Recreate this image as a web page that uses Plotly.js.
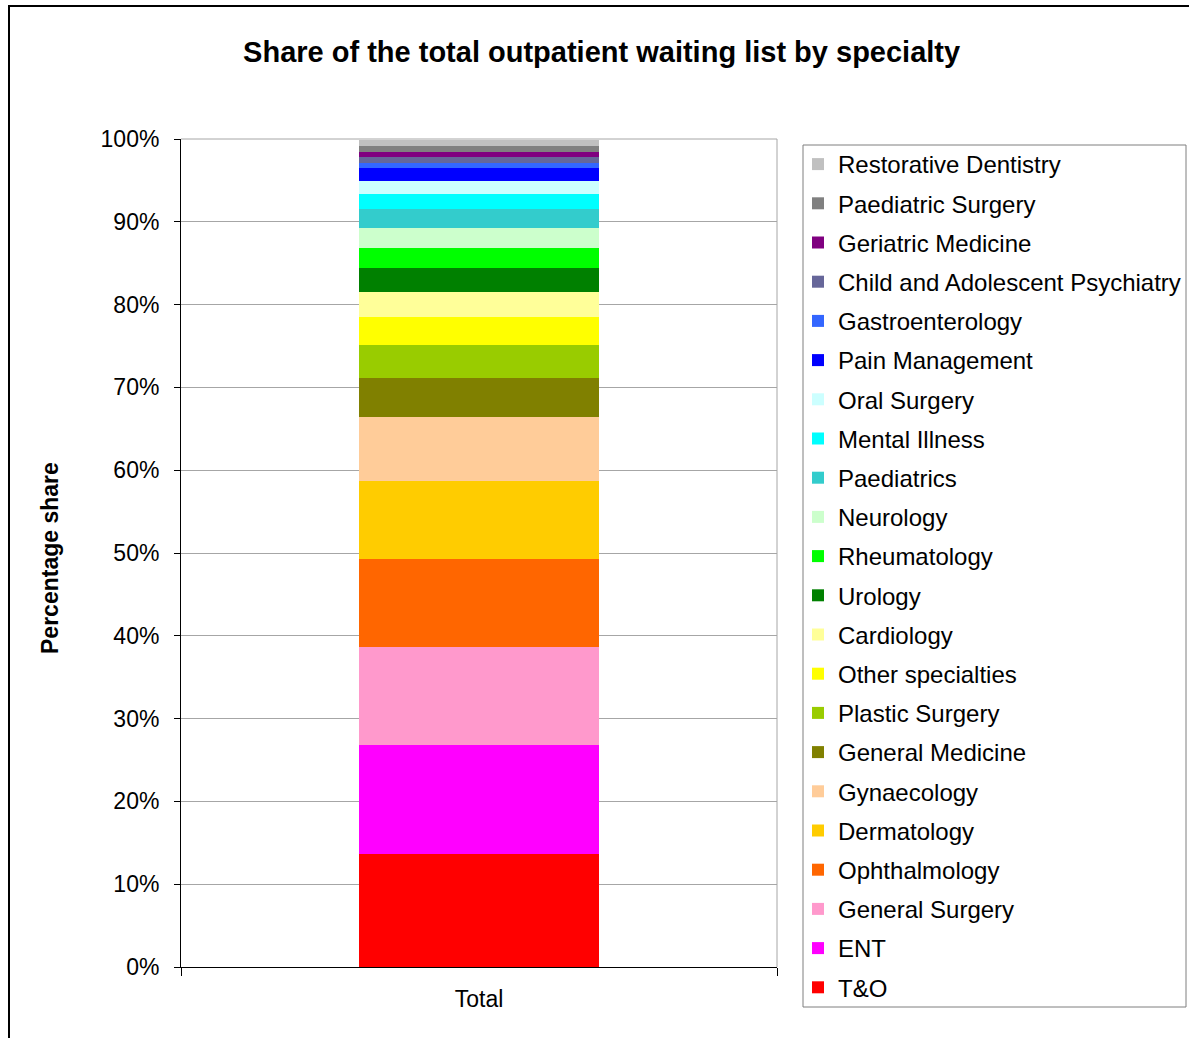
<!DOCTYPE html>
<html>
<head>
<meta charset="utf-8">
<script src="https://cdn.plot.ly/plotly-3.0.1.min.js"></script>
<style>
  html, body { margin: 0; padding: 0; background: #fff; }
  #wrap { position: relative; width: 1189px; height: 1038px; overflow: hidden; }
  #chart { width: 1189px; height: 1038px; }
  #frame { position: absolute; left: 8px; top: 5px; width: 1300px; height: 1200px;
           border: 2px solid #000; pointer-events: none; box-sizing: border-box; }
</style>
</head>
<body>
<div id="wrap">
  <div id="chart"></div>
  <div id="frame"></div>
</div>
<script>
// Data (bottom of stack first)
const categories = ["Total"];
const specialties = [
  "T&O", "ENT", "General Surgery", "Ophthalmology", "Dermatology", "Gynaecology",
  "General Medicine", "Plastic Surgery", "Other specialties", "Cardiology", "Urology",
  "Rheumatology", "Neurology", "Paediatrics", "Mental Illness", "Oral Surgery",
  "Pain Management", "Gastroenterology", "Child and Adolescent Psychiatry",
  "Geriatric Medicine", "Paediatric Surgery", "Restorative Dentistry"
];
const shares = [
  13.6, 13.2, 11.9, 10.6, 9.4, 7.7,
  4.7, 4.0, 3.4, 3.0, 2.9,
  2.4, 2.5, 2.2, 1.8, 1.6,
  1.6, 0.6, 0.7,
  0.6, 0.7, 0.8
];
const yTickVals = [0, 10, 20, 30, 40, 50, 60, 70, 80, 90, 100];
const yTickText = ["0%", "10%", "20%", "30%", "40%", "50%", "60%", "70%", "80%", "90%", "100%"];

// Styles
const colors = [
  "#FF0000", "#FF00FF", "#FF99CC", "#FF6600", "#FFCC00", "#FFCC99",
  "#808000", "#99CC00", "#FFFF00", "#FFFF99", "#008000",
  "#00FF00", "#CCFFCC", "#33CCCC", "#00FFFF", "#CCFFFF",
  "#0000FF", "#3366FF", "#666699",
  "#800080", "#808080", "#C0C0C0"
];

const FONT = '"Liberation Sans", Arial, sans-serif';

const traces = specialties.map((name, i) => ({
  type: "bar",
  name: name,
  x: categories,
  y: [shares[i]],
  legendgroup: "g" + i,
  legendrank: specialties.length - i,
  marker: { color: colors[i], line: { width: 0 } },
  hoverinfo: "name+y"
}));

const px = v => (v - 181) / 596;
const py = v => (967 - v) / 828;

const layout = {
  width: 1189,
  height: 1038,
  margin: { l: 181, r: 412, t: 139, b: 71, pad: 0, autoexpand: false },
  paper_bgcolor: "#ffffff",
  plot_bgcolor: "#ffffff",
  barmode: "stack",
  bargap: 0.597,
  font: { family: FONT, size: 23, color: "#000" },
  title: {
    text: "<b>Share of the total outpatient waiting list by specialty</b>",
    font: { family: FONT, size: 29, color: "#000" },
    xref: "container", x: 0.506, xanchor: "center",
    yref: "container", y: 1 - 52 / 1038, yanchor: "middle"
  },
  xaxis: {
    type: "category",
    showgrid: false,
    showline: true, linecolor: "#000", linewidth: 1,
    ticks: "outside", tickson: "boundaries", ticklen: 8, tickcolor: "#000",
    ticklabelstandoff: 11,
    tickfont: { family: FONT, size: 23, color: "#000" },
    zeroline: false, fixedrange: true
  },
  yaxis: {
    range: [0, 100],
    tickmode: "array",
    tickvals: yTickVals,
    ticktext: yTickText,
    showgrid: true, gridcolor: "#a6a6a6", gridwidth: 1,
    showline: true, linecolor: "#000", linewidth: 1,
    ticks: "outside", ticklen: 6, tickcolor: "#000",
    ticklabelstandoff: 10,
    tickfont: { family: FONT, size: 23, color: "#000" },
    zeroline: false, fixedrange: true
  },
  shapes: [
    { type: "line", xref: "paper", yref: "paper", x0: 1, x1: 1, y0: 0, y1: 1,
      line: { color: "#a6a6a6", width: 1 }, layer: "below" },
    { type: "line", xref: "paper", yref: "paper", x0: 0, x1: 1, y0: 1, y1: 1,
      line: { color: "#a6a6a6", width: 1 }, layer: "below" },
    { type: "rect", xref: "paper", yref: "paper",
      x0: px(803), x1: px(1186), y0: py(1007), y1: py(145),
      line: { color: "#7f7f7f", width: 1 }, fillcolor: "rgba(0,0,0,0)", layer: "above" }
  ],
  annotations: [
    { text: "<b>Percentage share</b>", textangle: -90, showarrow: false,
      xref: "paper", yref: "paper", x: px(50), y: 0.494,
      xanchor: "center", yanchor: "middle",
      font: { family: FONT, size: 23, color: "#000" } }
  ],
  legend: {
    xref: "paper", x: px(798), xanchor: "left",
    yref: "paper", y: py(142), yanchor: "top",
    traceorder: "grouped",
    tracegroupgap: 5,
    itemwidth: 30,
    maxheight: 950,
    borderwidth: 0,
    bgcolor: "rgba(0,0,0,0)",
    font: { family: FONT, size: 24, color: "#000" }
  },
  showlegend: true
};

Plotly.newPlot("chart", traces, layout, { displayModeBar: false, staticPlot: true });
</script>
</body>
</html>
